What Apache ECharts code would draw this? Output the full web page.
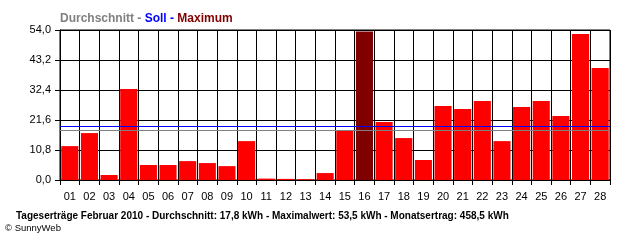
<!DOCTYPE html>
<html><head><meta charset="utf-8">
<script src="https://cdn.jsdelivr.net/npm/echarts@6/dist/echarts.min.js"></script>
<style>html,body{margin:0;padding:0;background:#fff}#c{width:640px;height:240px}</style>
</head><body><div id="c"></div>
<script>
const days = ['01','02','03','04','05','06','07','08','09','10','11','12','13','14','15','16','17','18','19','20','21','22','23','24','25','26','27','28'];
const dailyYield = [12.2,16.9,1.8,32.8,5.4,5.4,6.8,6.1,5.0,14.0,0.5,0.4,0.3,2.5,18.0,53.5,20.9,15.1,7.2,26.6,25.6,28.4,14.0,26.3,28.4,23.0,52.6,40.3];
const averageValue = 17.8;
const targetValue = 19.3;
const yMin = 0, yMax = 54, yStep = 10.8;
const headerParts = [['Durchschnitt - ','#808080'],['Soll - ','#0000ff'],['Maximum','#800000']];
const footerText = 'Tageserträge Februar 2010 - Durchschnitt: 17,8 kWh - Maximalwert: 53,5 kWh - Monatsertrag: 458,5 kWh';
const copyrightText = '© SunnyWeb';

const FONT = 'Liberation Sans';
const maxIdx = dailyYield.indexOf(Math.max(...dailyYield));
const barData = dailyYield.map((v,i)=>({value:v,itemStyle:{color:i===maxIdx?'#800000':'#ff0000'}}));

const chart = echarts.init(document.getElementById('c'), null, {renderer:'canvas'});
chart.setOption({
  animation:false,
  backgroundColor:'#fff',
  textStyle:{fontFamily:FONT},
  grid:{left:60,right:30,top:30,bottom:60,show:true,borderColor:'#000',borderWidth:1,backgroundColor:'#fff',containLabel:false},
  title:{
    left:55, top:8,
    text:headerParts.map((p,i)=>'{s'+i+'|'+p[0]+'}').join(''),
    textStyle:{
      rich:Object.fromEntries(headerParts.map((p,i)=>['s'+i,{color:p[1],fontWeight:'bold',fontSize:12,fontFamily:FONT}]))
    }
  },
  xAxis:{
    type:'category', data:days, boundaryGap:true,
    axisLine:{lineStyle:{color:'#000',width:1}},
    axisTick:{show:true,length:5,inside:false,lineStyle:{color:'#000'}},
    splitLine:{show:true,lineStyle:{color:'#000',width:1}},
    axisLabel:{color:'#000',fontSize:11,margin:11,interval:0,fontFamily:FONT}
  },
  yAxis:{
    type:'value', min:yMin, max:yMax, interval:yStep,
    axisLine:{show:true,lineStyle:{color:'#000',width:1}},
    axisTick:{show:true,length:5,lineStyle:{color:'#000'}},
    splitLine:{show:true,lineStyle:{color:'#000',width:1}},
    axisLabel:{color:'#000',fontSize:11,margin:9,fontFamily:FONT,
      formatter:v=>v.toFixed(1).replace('.',',')}
  },
  series:[{
    type:'bar', data:barData, barCategoryGap:'13%',
    markLine:{
      silent:true, symbol:'none', label:{show:false}, z:10,
      data:[
        {yAxis:averageValue,lineStyle:{color:'#808080',width:1,type:'solid'}},
        {yAxis:targetValue,lineStyle:{color:'#0000ff',width:1,type:'solid'}}
      ]
    }
  }],
  graphic:[
    {type:'text',left:16,top:211,style:{text:footerText,font:'bold 10px "'+FONT+'"',fill:'#000'}},
    {type:'text',left:5,top:223,style:{text:copyrightText,font:'9.5px "'+FONT+'"',fill:'#000'}}
  ]
});
</script></body></html>
